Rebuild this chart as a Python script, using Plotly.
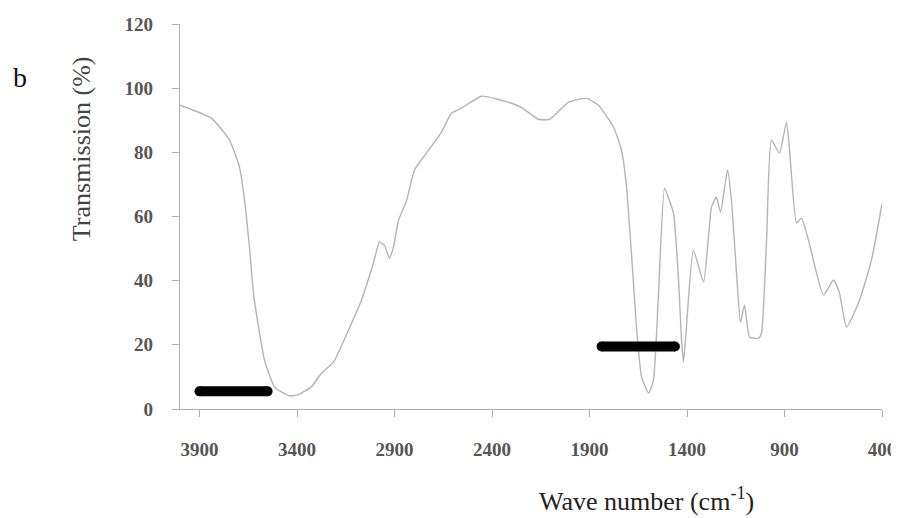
import plotly.graph_objects as go

# Spectrum (wavenumber in cm^-1, transmission in %)
wavenumber = [4000, 3838, 3746, 3695, 3669, 3644, 3623, 3597, 3567, 3515,
              3444, 3400, 3326, 3274, 3213, 3136, 3069, 3008, 2977, 2951,
              2926, 2905, 2879, 2838, 2797, 2736, 2659, 2608, 2556, 2454,
              2300, 2249, 2162, 2105, 2008, 1915, 1854, 1777, 1736, 1710,
              1685, 1659, 1633, 1597, 1572, 1546, 1515, 1490, 1469, 1444,
              1428, 1418, 1403, 1367, 1315, 1274, 1249, 1228, 1192, 1172,
              1146, 1126, 1105, 1079, 1033, 1018, 992, 967, 926, 890,
              874, 838, 813, 777, 700, 649, 618, 582, 515, 454, 400]
transmission = [94.7, 90.6, 83.8, 75.4, 65, 50.5, 36, 25.5, 15.3, 6.9,
                4.2, 4.3, 6.9, 11.2, 14.6, 24.6, 34, 45.5, 52, 51,
                47, 50.5, 58.9, 65, 74.5, 79.8, 86.3, 92.2, 93.8, 97.5,
                95.3, 94, 90.3, 90.3, 95.6, 96.8, 94.7, 87.9, 80.7, 69.2,
                48.6, 25.5, 10, 5, 9, 36, 68.8, 65, 61, 41,
                21.5, 14.6, 25.5, 49.5, 39.6, 63, 66, 61.4, 74.5, 65,
                42.4, 27, 32.4, 22.4, 22.1, 23.7, 52.6, 83.8, 79.8, 89.4,
                80.7, 58, 59.5, 52.6, 35.5, 40.2, 36.1, 25.5, 34, 46.4, 64]

# Highlighted bands (black bars)
band_start = [3900, 1838]
band_end = [3551, 1462]
band_level = [5.5, 19.5]

x_ticks = [3900, 3400, 2900, 2400, 1900, 1400, 900, 400]
y_ticks = [0, 20, 40, 60, 80, 100, 120]

fig = go.Figure()
fig.add_trace(go.Scatter(
    x=wavenumber, y=transmission, mode="lines",
    line=dict(color="#b4b4b4", width=1.4, shape="spline", smoothing=0.5),
    hoverinfo="skip", showlegend=False))

for xs, xe, yl in zip(band_start, band_end, band_level):
    fig.add_trace(go.Scatter(
        x=[xs, xe], y=[yl, yl], mode="lines+markers",
        line=dict(color="black", width=10),
        marker=dict(color="black", size=10),
        hoverinfo="skip", showlegend=False))

tick_font = dict(family="Liberation Serif", size=19, color="#555555",
                 weight="bold")
axis_col = "#b0b0b0"

# The page body adds an 8px offset; size the figure so the plot area lands
# at x 180..882, y 24..409 of the window.
fig.update_layout(
    width=891, height=510,
    margin=dict(l=172, r=17, t=16, b=109, autoexpand=False),
    paper_bgcolor="white", plot_bgcolor="white",
    xaxis=dict(range=[4000, 400], tickvals=x_ticks,
               ticktext=[str(v) for v in x_ticks],
               showgrid=False, zeroline=False, showline=True,
               linecolor=axis_col, linewidth=1.3, automargin=False,
               ticks="outside", ticklen=7, tickcolor=axis_col,
               tickfont=tick_font, ticklabelstandoff=16,
               ticklabeloverflow="allow"),
    yaxis=dict(range=[0, 120], tickvals=y_ticks,
               showgrid=False, zeroline=False, showline=True,
               linecolor=axis_col, linewidth=1.3, automargin=False,
               ticks="outside", ticklen=7, tickcolor=axis_col,
               tickfont=tick_font, ticklabelstandoff=15),
    annotations=[
        dict(text="Transmission (%)", xref="paper", yref="paper",
             x=-0.141, y=0.675, textangle=-90, showarrow=False,
             xanchor="center", yanchor="middle",
             font=dict(family="Liberation Serif", size=26, color="#444444")),
        dict(text="Wave number (cm<sup>-1</sup>)", xref="paper", yref="paper",
             x=0.664, y=-0.236, showarrow=False, xanchor="center",
             yanchor="middle",
             font=dict(family="Liberation Serif", size=26, color="#222222")),
        dict(text="b", xref="paper", yref="paper",
             x=-0.228, y=0.86, showarrow=False,
             xanchor="center", yanchor="middle",
             font=dict(family="Liberation Serif", size=28, color="#111111")),
    ],
)

fig.write_html("out.html")
